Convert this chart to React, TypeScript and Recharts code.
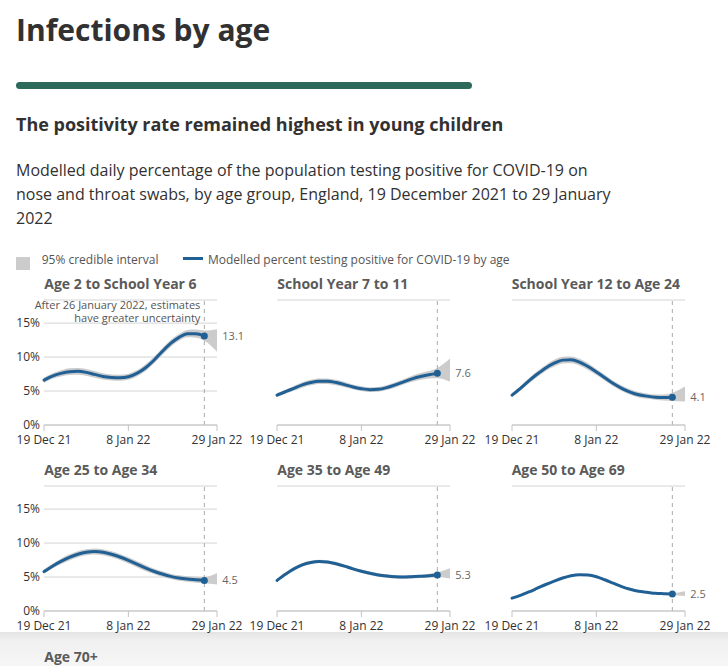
import { ComposedChart, Line, Area, XAxis, YAxis, CartesianGrid, ReferenceLine } from 'recharts';

// day offsets from 19 Dec 2021; the modelled line stops at 26 Jan, the interval runs to 29 Jan
const days = [0, 2, 4, 6, 8, 10, 12, 14, 16, 18, 20, 22, 24, 26, 28, 30, 32, 34, 36, 38, 41];
const tickDays = [0, 20, 41];
const tickLabels = ['19 Dec 21', '8 Jan 22', '29 Jan 22'];
const yTicks = [0, 5, 10, 15];
const uncertainFrom = 38;

const age2ToYear6 = [6.6, 7.2, 7.6, 7.85, 7.9, 7.75, 7.45, 7.15, 7.0, 6.95, 7.1, 7.6, 8.4, 9.5, 10.8, 12.0, 12.9, 13.45, 13.45, 13.1];
const age2ToYear6Low = [6.2, 6.8, 7.15, 7.35, 7.4, 7.25, 6.95, 6.7, 6.55, 6.5, 6.65, 7.15, 7.9, 9.0, 10.3, 11.5, 12.4, 12.9, 12.85, 12.4, 10.8];
const age2ToYear6High = [7.0, 7.6, 8.05, 8.35, 8.4, 8.25, 7.95, 7.6, 7.45, 7.4, 7.55, 8.05, 8.9, 10.0, 11.3, 12.5, 13.4, 14.0, 14.05, 13.9, 14.1];

const year7To11 = [4.4, 4.9, 5.4, 5.9, 6.25, 6.45, 6.45, 6.25, 5.95, 5.6, 5.35, 5.2, 5.25, 5.5, 5.9, 6.35, 6.8, 7.15, 7.4, 7.6];
const year7To11Low = [4.1, 4.6, 5.05, 5.5, 5.85, 6.05, 6.05, 5.85, 5.55, 5.25, 5.0, 4.85, 4.9, 5.15, 5.5, 5.95, 6.35, 6.65, 6.85, 6.9, 6.4];
const year7To11High = [4.7, 5.2, 5.75, 6.3, 6.65, 6.85, 6.85, 6.65, 6.35, 5.95, 5.7, 5.55, 5.6, 5.85, 6.3, 6.75, 7.25, 7.65, 7.95, 8.4, 9.8];

const year12To24 = [4.4, 5.4, 6.5, 7.5, 8.4, 9.1, 9.55, 9.6, 9.25, 8.6, 7.8, 6.95, 6.1, 5.4, 4.85, 4.45, 4.25, 4.1, 4.05, 4.1];
const year12To24Low = [4.1, 5.05, 6.1, 7.05, 7.95, 8.6, 9.05, 9.1, 8.75, 8.1, 7.35, 6.5, 5.7, 5.0, 4.45, 4.05, 3.85, 3.7, 3.6, 3.55, 3.45];
const year12To24High = [4.7, 5.75, 6.9, 7.95, 8.85, 9.6, 10.05, 10.1, 9.75, 9.1, 8.25, 7.4, 6.5, 5.8, 5.25, 4.85, 4.65, 4.5, 4.5, 4.75, 5.65];

const age25To34 = [5.8, 6.6, 7.3, 7.9, 8.35, 8.65, 8.75, 8.65, 8.35, 7.95, 7.45, 6.9, 6.35, 5.85, 5.45, 5.1, 4.85, 4.7, 4.6, 4.5];
const age25To34Low = [5.5, 6.25, 6.9, 7.45, 7.9, 8.2, 8.3, 8.2, 7.9, 7.5, 7.0, 6.45, 5.9, 5.45, 5.05, 4.7, 4.45, 4.3, 4.15, 4.1, 3.9];
const age25To34High = [6.1, 6.95, 7.7, 8.35, 8.8, 9.1, 9.2, 9.1, 8.8, 8.4, 7.9, 7.35, 6.8, 6.25, 5.85, 5.5, 5.25, 5.1, 5.05, 5.0, 5.6];

const age35To49 = [4.5, 5.4, 6.2, 6.8, 7.15, 7.3, 7.2, 6.95, 6.6, 6.2, 5.85, 5.55, 5.3, 5.15, 5.05, 5.0, 5.05, 5.1, 5.2, 5.3];
const age35To49Low = [4.3, 5.2, 5.95, 6.55, 6.9, 7.05, 6.95, 6.7, 6.35, 5.95, 5.6, 5.3, 5.05, 4.9, 4.8, 4.75, 4.8, 4.85, 4.9, 4.95, 4.8];
const age35To49High = [4.7, 5.6, 6.45, 7.05, 7.4, 7.55, 7.45, 7.2, 6.85, 6.45, 6.1, 5.8, 5.55, 5.4, 5.3, 5.25, 5.3, 5.35, 5.5, 5.7, 6.3];

const age50To69 = [1.9, 2.3, 2.8, 3.35, 3.9, 4.4, 4.85, 5.2, 5.35, 5.3, 5.05, 4.6, 4.1, 3.6, 3.2, 2.9, 2.75, 2.6, 2.55, 2.5];
const age50To69Low = [1.8, 2.2, 2.7, 3.25, 3.8, 4.3, 4.75, 5.1, 5.25, 5.2, 4.95, 4.5, 4.0, 3.5, 3.1, 2.8, 2.65, 2.5, 2.45, 2.35, 2.2];
const age50To69High = [2.0, 2.4, 2.9, 3.45, 4.0, 4.5, 4.95, 5.3, 5.45, 5.4, 5.15, 4.7, 4.2, 3.7, 3.3, 3.0, 2.85, 2.7, 2.65, 2.65, 2.9];

const BLUE = '#206095';
const TEXT = '#323132';
const FONT = '"Open Sans", sans-serif';

const panels = [
  { title: 'Age 2 to School Year 6', values: age2ToYear6, low: age2ToYear6Low, high: age2ToYear6High, note: true },
  { title: 'School Year 7 to 11', values: year7To11, low: year7To11Low, high: year7To11High },
  { title: 'School Year 12 to Age 24', values: year12To24, low: year12To24Low, high: year12To24High },
  { title: 'Age 25 to Age 34', values: age25To34, low: age25To34Low, high: age25To34High },
  { title: 'Age 35 to Age 49', values: age35To49, low: age35To49Low, high: age35To49High },
  { title: 'Age 50 to Age 69', values: age50To69, low: age50To69Low, high: age50To69High },
];

const colLeft = [44.3, 277.3, 511.7];
const rowPlotTop = [300, 486.3];
const rowTitleTop = [275, 461.3, 647.6];
const Y_AXIS_W = 36;

const NoteLabel = (props: any) => {
  const { viewBox } = props;
  const x = viewBox.x - 4;
  return (
    <text x={x} y={viewBox.y + 9} textAnchor="end" fontSize={11} fill="#555" fontFamily={FONT}>
      <tspan x={x}>After 26 January 2022, estimates</tspan>
      <tspan x={x} dy={12.7}>have greater uncertainty</tspan>
    </text>
  );
};

function Panel({ panel, col }: { panel: any; col: number }) {
  const { values, low, high } = panel;
  const rows = days.map((day, i) => ({
    day,
    value: i < values.length ? values[i] : null,
    band: [low[i], high[i]],
  }));
  const lastIdx = values.length - 1;

  // only the last modelled point gets a marker and its value
  const endDot = (props: any) => {
    const { cx, cy, index } = props;
    if (index !== lastIdx || cx == null || cy == null) return <g key={`d${index}`} />;
    return (
      <g key={`d${index}`}>
        <circle cx={cx} cy={cy} r={3.5} fill={BLUE} />
        <text x={cx + 18} y={cy} dy="0.36em" fontSize={11} fill="#666" fontFamily={FONT}>
          {values[lastIdx].toFixed(1)}
        </text>
      </g>
    );
  };

  return (
    <ComposedChart width={Y_AXIS_W + 173 + 30} height={155} data={rows} margin={{ top: 4, right: 30, bottom: 0, left: 0 }}>
      <CartesianGrid vertical={false} stroke="#d4d4d4" />
      <XAxis
        dataKey="day"
        type="number"
        domain={[0, 41]}
        ticks={tickDays}
        interval={0}
        tickFormatter={(d: number) => tickLabels[tickDays.indexOf(d)]}
        tick={{ fill: TEXT, fontSize: 12, fontFamily: FONT }}
        stroke="#c4c4c4"
        tickSize={6}
        tickMargin={4}
        height={26}
      />
      <YAxis
        type="number"
        domain={[0, 18.4]}
        ticks={yTicks}
        width={Y_AXIS_W}
        axisLine={false}
        tickLine={false}
        tickSize={0}
        tickMargin={4}
        tickFormatter={(v: number) => `${v}%`}
        tick={col === 0 ? { fill: TEXT, fontSize: 12, fontFamily: FONT } : false}
      />
      <Area dataKey="band" type="monotone" fill="#cccccc" fillOpacity={1} stroke="none" isAnimationActive={false} />
      <ReferenceLine
        x={uncertainFrom}
        stroke="#aaaaaa"
        strokeDasharray="4 4"
        label={panel.note ? <NoteLabel /> : undefined}
      />
      <Line
        dataKey="value"
        type="monotone"
        stroke={BLUE}
        strokeWidth={3}
        strokeLinecap="round"
        dot={endDot}
        activeDot={false}
        isAnimationActive={false}
      />
    </ComposedChart>
  );
}

export default function App() {
  return (
    <div style={{ position: 'relative', width: 728, height: 666, overflow: 'hidden', background: '#fff', fontFamily: FONT, color: TEXT }}>
      <style>{'body{margin:0}'}</style>
      <div style={{ position: 'absolute', left: 16, top: 12, fontSize: 30, lineHeight: '36px', fontWeight: 700 }}>
        Infections by age
      </div>
      <div style={{ position: 'absolute', left: 16, top: 82, width: 456, height: 6.5, borderRadius: 4, background: '#2d6a5c' }} />
      <div style={{ position: 'absolute', left: 16, top: 111.7, fontSize: 18, lineHeight: '24px', fontWeight: 700 }}>
        The positivity rate remained highest in young children
      </div>
      <div style={{ position: 'absolute', left: 16, top: 157.8, fontSize: 16, lineHeight: '24px', whiteSpace: 'nowrap' }}>
        Modelled daily percentage of the population testing positive for COVID-19 on
        <br />
        nose and throat swabs, by age group, England, 19 December 2021 to 29 January
        <br />
        2022
      </div>

      <div style={{ position: 'absolute', left: 16, top: 257, width: 14, height: 13, background: '#cccccc' }} />
      <div style={{ position: 'absolute', left: 41.7, top: 251.6, fontSize: 12, lineHeight: '16px', color: '#555' }}>
        95% credible interval
      </div>
      <div style={{ position: 'absolute', left: 183, top: 256.5, width: 20, height: 3, background: BLUE }} />
      <div style={{ position: 'absolute', left: 208, top: 251.6, fontSize: 12, lineHeight: '16px', color: '#555' }}>
        Modelled percent testing positive for COVID-19 by age
      </div>

      <div
        style={{
          position: 'absolute', left: 0, top: 632, width: 728, height: 34,
          background: 'linear-gradient(to bottom, #e4e4e4 0px, #f0f0f0 8px, #f6f6f6 100%)',
        }}
      />

      {panels.map((p, i) => {
        const col = i % 3;
        const row = Math.floor(i / 3);
        return (
          <div key={p.title}>
            <div style={{ position: 'absolute', left: colLeft[col], top: rowTitleTop[row], fontSize: 14, lineHeight: '18px', fontWeight: 700, color: '#5a5a5a', whiteSpace: 'nowrap' }}>
              {p.title}
            </div>
            <div style={{ position: 'absolute', left: colLeft[col] - Y_AXIS_W, top: rowPlotTop[row] - 4 }}>
              <Panel panel={p} col={col} />
            </div>
          </div>
        );
      })}

      <div style={{ position: 'absolute', left: colLeft[0], top: rowTitleTop[2], fontSize: 14, lineHeight: '18px', fontWeight: 700, color: '#5a5a5a' }}>
        Age 70+
      </div>
    </div>
  );
}
